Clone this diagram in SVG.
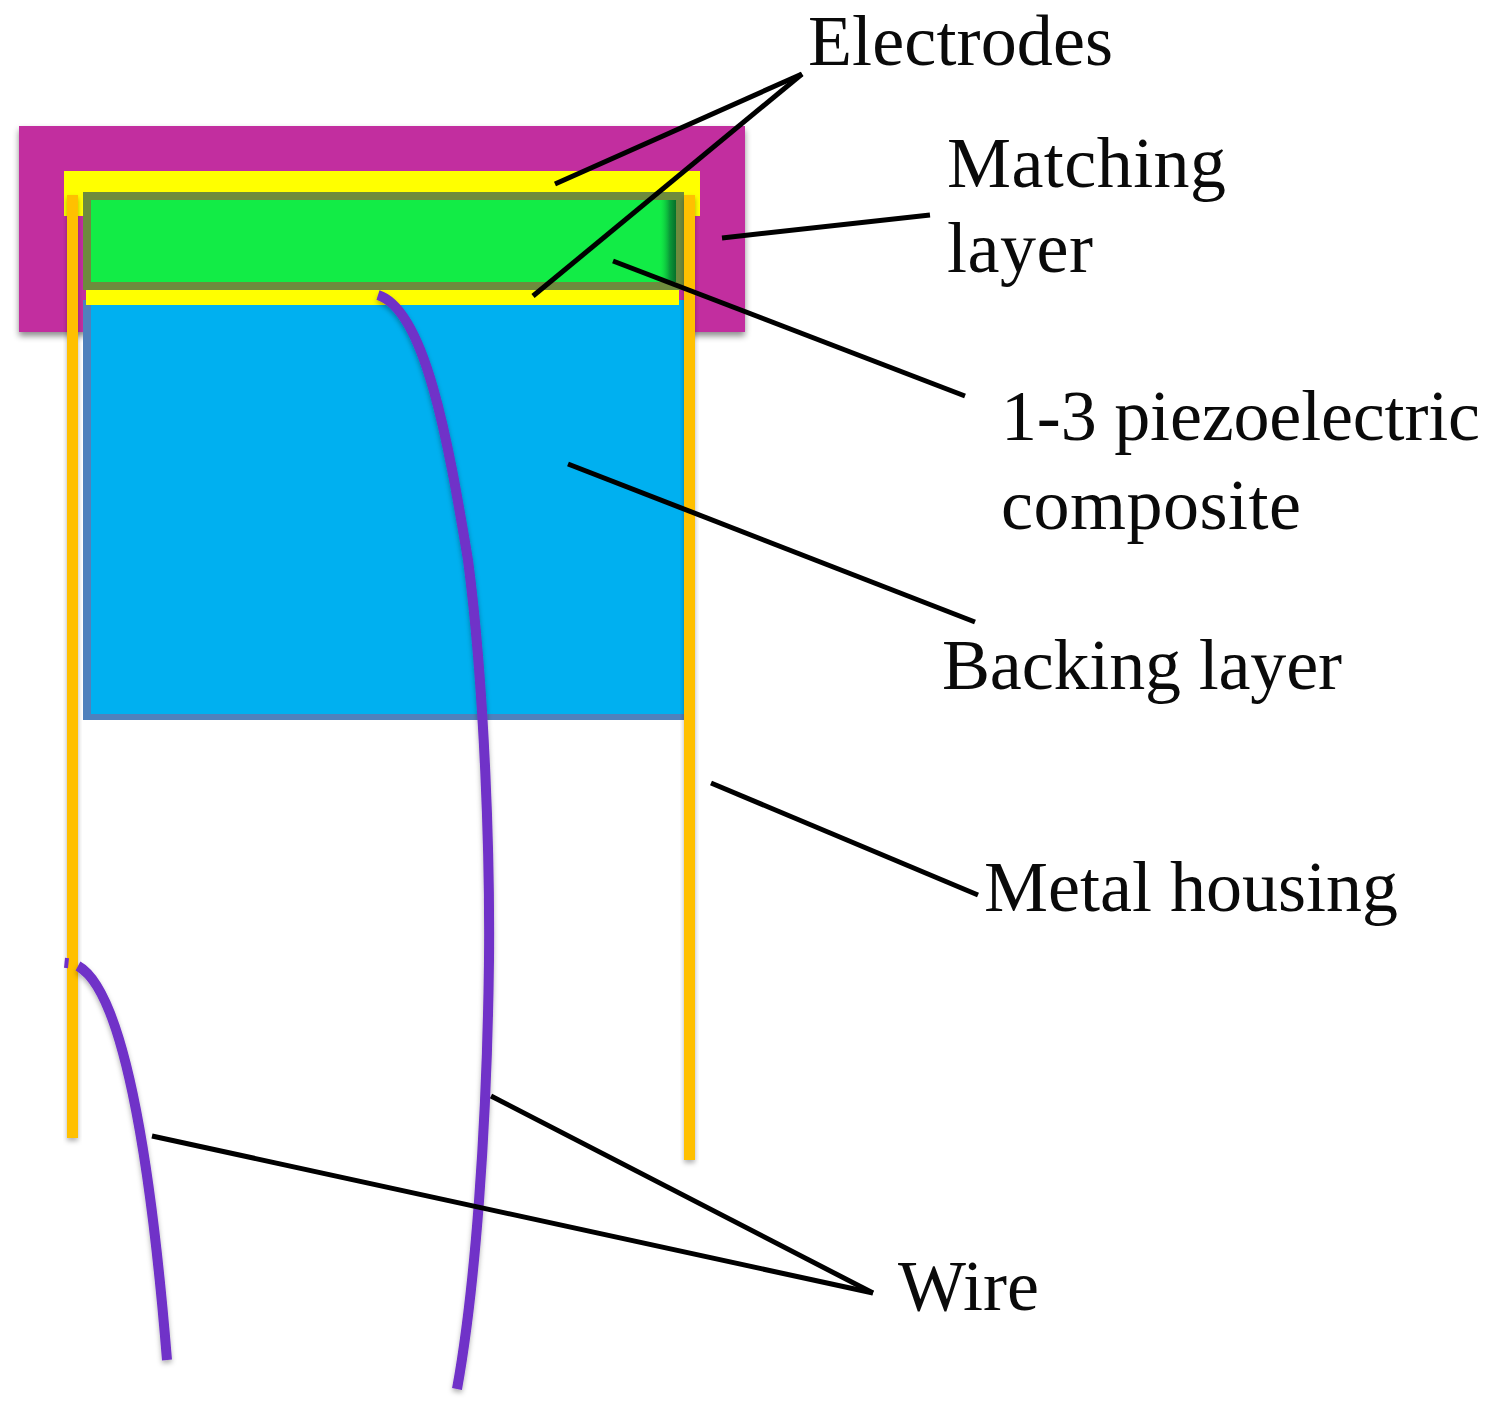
<svg xmlns="http://www.w3.org/2000/svg" width="1490" height="1409" viewBox="0 0 1490 1409">
<style>
text{font-family:"Liberation Serif","Times New Roman",serif;font-size:72px;fill:#0a0a0a}
.lead{fill:none;stroke:#000;stroke-width:5;stroke-linecap:butt}
.wire{fill:none;stroke:#7030c8;stroke-width:10;filter:url(#s)}
.metal{fill:#ffc000;filter:url(#s)}
</style>
<defs>
<filter id="s" x="-30%" y="-5%" width="160%" height="110%"><feDropShadow dx="0" dy="3" stdDeviation="2.5" flood-color="#000" flood-opacity=".3"/></filter>
<filter id="m" x="-5%" y="-5%" width="110%" height="115%"><feDropShadow dx="0" dy="4" stdDeviation="3" flood-color="#000" flood-opacity=".45"/></filter>
<linearGradient id="g" x1="0" x2="1" y1="0" y2="0"><stop offset="0" stop-color="#0fd040" stop-opacity="0"/><stop offset=".6" stop-color="#0a9a38"/><stop offset="1" stop-color="#06702a"/></linearGradient>
</defs>
<rect width="1490" height="1409" fill="#fff"/>
<g id="matching-layer"><rect x="19" y="126" width="726" height="206" fill="#c22e9f" filter="url(#m)"/></g>
<g id="top-electrode"><rect x="64" y="171" width="636" height="45" fill="#ffff00"/></g>
<g id="backing-layer"><rect x="83" y="300" width="601" height="420" fill="#4f81bd"/><rect x="91" y="300" width="593" height="414" fill="#00b0f0"/></g>
<g id="composite"><rect x="87" y="196" width="593" height="90" fill="#12ec46" stroke="#6e8b3d" stroke-width="8"/><rect x="660" y="200" width="16" height="82" fill="url(#g)"/></g>
<g id="bottom-electrode"><rect x="86" y="290" width="593" height="15" fill="#ffff00"/></g>
<g id="metal-housing"><rect class="metal" x="67" y="195" width="11" height="943"/><rect class="metal" x="684" y="195" width="11" height="965"/></g>
<g id="wires">
<path class="wire" d="M378 295C425 310 448 440 468 560C485 690 490 860 489 960C487 1130 475 1290 457 1389"/>
<path class="wire" d="M78 966C122 990 150 1150 167 1360"/>
<path d="M67 958L66 968" stroke="#7030c8" stroke-width="4" fill="none"/>
</g>
<g id="connectors">
<path class="lead" d="M802 74L555 184"/>
<path class="lead" d="M802 74L533 296"/>
<path class="lead" d="M930 215L722 238"/>
<path class="lead" d="M965 396L613 261"/>
<path class="lead" d="M975 622L568 464"/>
<path class="lead" d="M978 895L711 783"/>
<path class="lead" d="M873 1293L491 1096"/>
<path class="lead" d="M873 1293L152 1136"/>
</g>
<g id="labels">
<text x="808" y="65" textLength="305">Electrodes</text>
<text x="947" y="187" textLength="279">Matching</text>
<text x="947" y="272" textLength="146">layer</text>
<text x="1001" y="440" textLength="479">1-3 piezoelectric</text>
<text x="1001" y="529" textLength="300">composite</text>
<text x="942" y="689" textLength="400">Backing layer</text>
<text x="984" y="911" textLength="414">Metal housing</text>
<text x="898" y="1310" textLength="141">Wire</text>
</g>
</svg>
